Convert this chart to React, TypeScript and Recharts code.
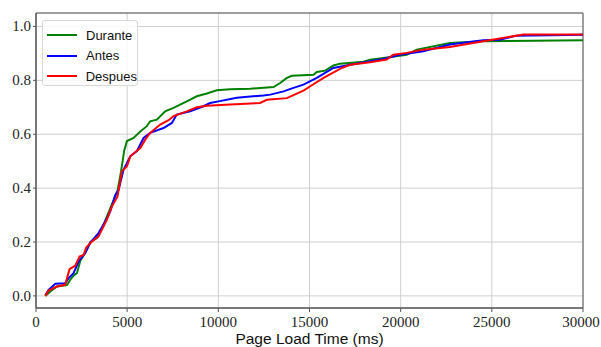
import { LineChart, Line, XAxis, YAxis, CartesianGrid, Legend, ReferenceArea } from "recharts";

const seriesNames = ["Durante", "Antes", "Despues"];
const seriesColors = ["#008000", "#0000ff", "#ff0000"];

const duranteTimes = [511, 785, 1150, 1700, 1880, 2060, 2250, 2430, 2700, 2980, 3340, 3620, 3890, 4160, 4470, 4660, 4840, 4990, 5350, 5720, 6080, 6260, 6630, 7085, 7540, 8270, 8820, 9370, 9915, 10650, 11750, 13030, 13390, 13760, 14030, 15220, 15400, 15860, 16310, 16680, 17960, 18320, 19050, 20330, 20880, 22700, 24530, 30000];
const duranteCdf = [0.0, 0.016, 0.035, 0.04, 0.06, 0.075, 0.085, 0.13, 0.16, 0.2, 0.215, 0.25, 0.295, 0.34, 0.39, 0.46, 0.54, 0.575, 0.586, 0.61, 0.63, 0.648, 0.654, 0.685, 0.698, 0.722, 0.741, 0.751, 0.763, 0.767, 0.769, 0.775, 0.79, 0.809, 0.817, 0.821, 0.831, 0.836, 0.855, 0.862, 0.869, 0.877, 0.883, 0.895, 0.914, 0.939, 0.945, 0.949];

const antesTimes = [511, 690, 1060, 1600, 1790, 2060, 2340, 2700, 2980, 3430, 3800, 4070, 4350, 4530, 4800, 5170, 5530, 5900, 6260, 6990, 7450, 7720, 8450, 9180, 9550, 10010, 11010, 12470, 12850, 13580, 14120, 14670, 15400, 16310, 17230, 19050, 19960, 21240, 22700, 24530, 25440, 26350, 30000];
const antesCdf = [0.002, 0.022, 0.045, 0.047, 0.066, 0.084, 0.128, 0.159, 0.198, 0.233, 0.276, 0.313, 0.375, 0.394, 0.468, 0.518, 0.537, 0.586, 0.605, 0.623, 0.642, 0.673, 0.685, 0.704, 0.716, 0.722, 0.735, 0.744, 0.747, 0.759, 0.772, 0.784, 0.809, 0.846, 0.858, 0.879, 0.895, 0.908, 0.933, 0.949, 0.951, 0.966, 0.969];

const despuesTimes = [511, 690, 1150, 1600, 1840, 2150, 2390, 2610, 2760, 3070, 3430, 3890, 4160, 4470, 4710, 4990, 5170, 5720, 5990, 6260, 6810, 7270, 7540, 8270, 8820, 9370, 10650, 12290, 12660, 13760, 14670, 15040, 15770, 16770, 17230, 18320, 19230, 19600, 20330, 21240, 22700, 24530, 26720, 30000];
const despuesCdf = [0.0, 0.02, 0.035, 0.041, 0.099, 0.112, 0.146, 0.152, 0.18, 0.202, 0.221, 0.283, 0.332, 0.369, 0.462, 0.481, 0.518, 0.549, 0.58, 0.605, 0.636, 0.652, 0.667, 0.685, 0.7, 0.706, 0.71, 0.716, 0.728, 0.734, 0.762, 0.778, 0.809, 0.846, 0.858, 0.867, 0.877, 0.895, 0.902, 0.914, 0.924, 0.945, 0.97, 0.97];

const xTicks = [0, 5000, 10000, 15000, 20000, 25000, 30000];
const yTicks = [0, 0.2, 0.4, 0.6, 0.8, 1.0];

const toPoints = (times: number[], cdf: number[]) =>
  times.map((t, i) => ({ t, p: cdf[i] }));

const seriesData = [
  toPoints(duranteTimes, duranteCdf),
  toPoints(antesTimes, antesCdf),
  toPoints(despuesTimes, despuesCdf),
];

const serif = "'Liberation Serif', serif";
const sans = "'Liberation Sans', sans-serif";
const tickStyle = { fontFamily: serif, fontSize: 15, fill: "#222" };

export default function App() {
  return (
    <div style={{ position: "absolute", left: 0, top: 0, background: "#fff" }}>
      <LineChart width={601} height={347} margin={{ top: 13, right: 18, left: 0, bottom: 0 }}>
        <CartesianGrid stroke="#cfcfcf" strokeWidth={1} />
        <XAxis
          type="number"
          dataKey="t"
          domain={[0, 30000]}
          ticks={xTicks}
          allowDataOverflow
          height={39}
          stroke="#555"
          tickSize={4}
          tickMargin={4}
          tick={(p: any) => (
            <text x={p.x} y={p.y + 11} textAnchor="middle" style={tickStyle}>
              {p.payload.value}
            </text>
          )}
          label={{
            value: "Page Load Time (ms)",
            position: "insideBottom",
            offset: 3,
            style: { fontFamily: sans, fontSize: 15.5, fill: "#111" },
          }}
        />
        <YAxis
          type="number"
          dataKey="p"
          domain={[-0.045, 1.05]}
          ticks={yTicks}
          allowDataOverflow
          width={36}
          stroke="#555"
          tickSize={3}
          tickMargin={2}
          tick={(p: any) => (
            <text x={p.x} y={p.y + 5} textAnchor="end" style={tickStyle}>
              {Number(p.payload.value).toFixed(1)}
            </text>
          )}
        />
        <ReferenceArea
          x1={0}
          x2={30000}
          y1={-0.045}
          y2={1.05}
          fill="none"
          stroke="#555"
          strokeWidth={1}
          ifOverflow="visible"
        />
        {seriesNames.map((name, i) => (
          <Line
            key={name}
            name={name}
            data={seriesData[i]}
            dataKey="p"
            type="linear"
            stroke={seriesColors[i]}
            strokeWidth={2}
            dot={false}
            isAnimationActive={false}
          />
        ))}
        <Legend
          layout="vertical"
          align="center"
          verticalAlign="middle"
          wrapperStyle={{ left: 42, top: 20, width: 96, height: 66 }}
          content={() => (
            <div
              style={{
                border: "1px solid #d8d8d8",
                borderRadius: 3,
                background: "rgba(255,255,255,0.85)",
                paddingTop: 4,
                boxSizing: "border-box",
                width: 96,
                height: 66,
              }}
            >
              {seriesNames.map((name, i) => (
                <div key={name} style={{ display: "flex", alignItems: "center", height: 20.5, marginLeft: 4 }}>
                  <div style={{ width: 30, height: 2, background: seriesColors[i] }} />
                  <span style={{ marginLeft: 9, fontFamily: sans, fontSize: 13, color: "#111" }}>{name}</span>
                </div>
              ))}
            </div>
          )}
        />
      </LineChart>
    </div>
  );
}
